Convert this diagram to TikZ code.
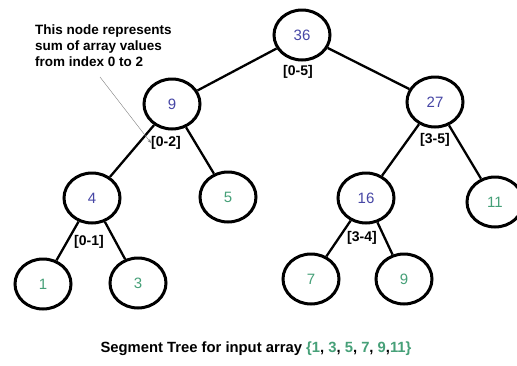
\documentclass[tikz,border=0pt]{standalone}
\usepackage{fontspec}
\setmainfont{Liberation Sans}
\usetikzlibrary{shapes.geometric,arrows.meta}
\definecolor{sumblue}{RGB}{70,70,165}
\definecolor{leafgreen}{RGB}{70,160,120}
\begin{document}
\begin{tikzpicture}[x=1pt,y=-1pt,
	tnode/.style={ellipse, draw, line width=3pt, minimum width=56pt, minimum height=50pt, inner sep=0pt, font=\fontsize{15}{17}\selectfont},
	sumnode/.style={tnode, text=sumblue},
	leafnode/.style={tnode, text=leafgreen},
	rangelabel/.style={font=\bfseries\fontsize{14}{16}\selectfont, inner sep=0pt},
	treeedge/.style={line width=2.3pt}]
	\useasboundingbox (0,0) rectangle (517,365);
	\fill [white] (0,0) rectangle (517,365);
	% tree nodes
	\node [sumnode] (n36) at (302,35) {36};
	\node [sumnode] (n9) at (172,104) {9};
	\node [sumnode] (n27) at (435,102) {27};
	\node [sumnode] (n4) at (92,198) {4};
	\node [leafnode] (n5) at (228,197) {5};
	\node [sumnode] (n16) at (366,198) {16};
	\node [leafnode] (n11) at (495,202) {11};
	\node [leafnode] (n1) at (43,284) {1};
	\node [leafnode] (n3) at (138,283) {3};
	\node [leafnode] (n7) at (311,279) {7};
	\node [leafnode] (n9b) at (404,279) {9};
	% edges
	\draw [treeedge] (n36) -- (n9);
	\draw [treeedge] (n36) -- (n27);
	\draw [treeedge] (n9) -- (n4);
	\draw [treeedge] (n9) -- (n5);
	\draw [treeedge] (n27) -- (n16);
	\draw [treeedge] (n27) -- (n11);
	\draw [treeedge] (n4) -- (n1);
	\draw [treeedge] (n4) -- (n3);
	\draw [treeedge] (n16) -- (n7);
	\draw [treeedge] (n16) -- (n9b);
	% ranges
	\node [rangelabel] (r05) at (298,72) {[0-5]};
	\node [rangelabel] (r02) at (166,143) {[0-2]};
	\node [rangelabel] (r35) at (435,140) {[3-5]};
	\node [rangelabel] (r01) at (89,242) {[0-1]};
	\node [rangelabel] (r34) at (362,238) {[3-4]};
	% note
	\node [anchor=north west, align=left, inner sep=0pt, font=\bfseries\fontsize{13.5}{16}\selectfont] (note) at (35,25) {This node represents\\sum of array values\\from index 0 to 2};
	\coordinate (ptr) at (100,77);
	\draw [gray, thin, -{Stealth[length=4pt]}] (ptr) -- (r02.west);
	% caption
	\node [font=\bfseries\fontsize{14.8}{17}\selectfont] (caption) at (256,349) {Segment Tree for input array {\color{leafgreen}\{1}, {\color{leafgreen}3}, {\color{leafgreen}5}, {\color{leafgreen}7}, {\color{leafgreen}9},{\color{leafgreen}11\}}};
\end{tikzpicture}
\end{document}
